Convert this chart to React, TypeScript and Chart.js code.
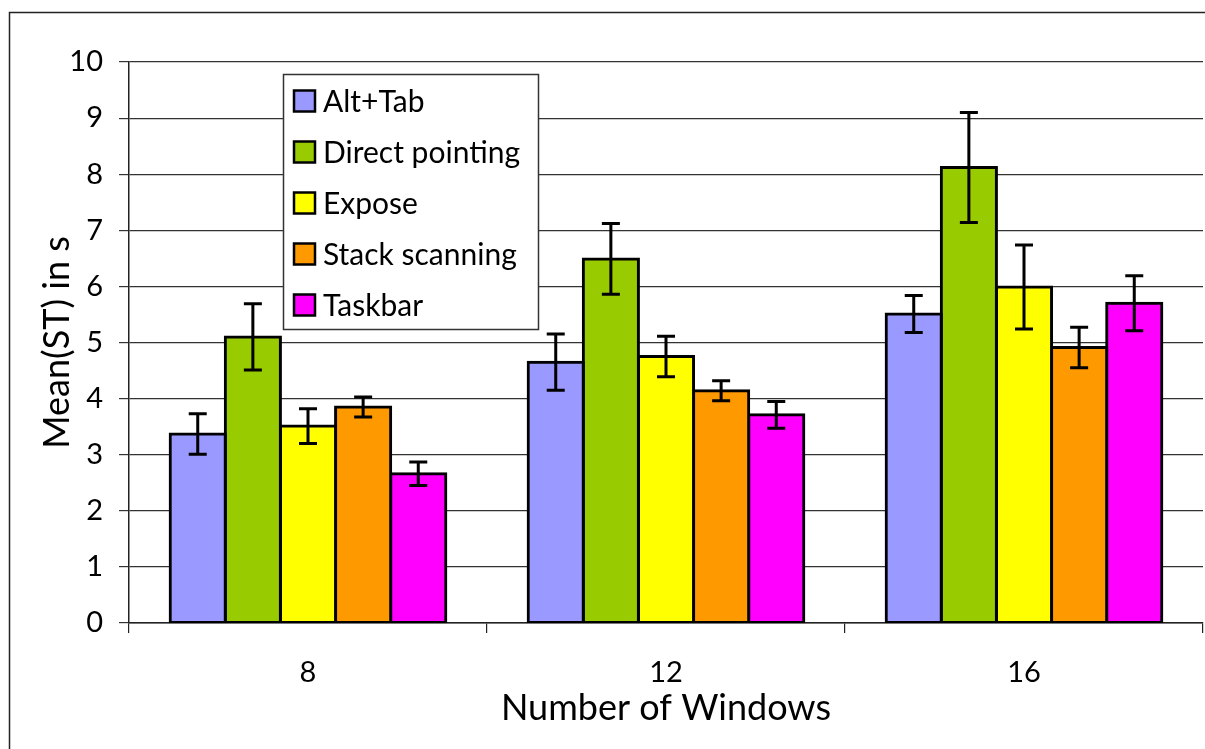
import React, { useEffect, useRef } from "react";
import { Chart, registerables } from "chart.js";

Chart.register(...registerables);

const categories = ["8", "12", "16"];
const seriesNames = ["Alt+Tab", "Direct pointing", "Expose", "Stack scanning", "Taskbar"];
const seriesColors = ["#9999FF", "#99CC00", "#FFFF00", "#FF9900", "#FF00FF"];

const altTab = [3.37, 4.65, 5.51];
const directPointing = [5.1, 6.49, 8.12];
const expose = [3.51, 4.75, 5.99];
const stackScanning = [3.85, 4.14, 4.91];
const taskbar = [2.66, 3.71, 5.7];

const altTabErr = [0.36, 0.5, 0.33];
const directPointingErr = [0.59, 0.63, 0.98];
const exposeErr = [0.31, 0.36, 0.75];
const stackScanningErr = [0.18, 0.18, 0.36];
const taskbarErr = [0.21, 0.24, 0.49];

const yTicks = [0, 1, 2, 3, 4, 5, 6, 7, 8, 9, 10];
const yTitle = "Mean(ST) in s";
const xTitle = "Number of Windows";

const FONT = "Lato, 'Open Sans', sans-serif";

const seriesValues = [altTab, directPointing, expose, stackScanning, taskbar];
const seriesErrors = [altTabErr, directPointingErr, exposeErr, stackScanningErr, taskbarErr];

const framePlugin = {
  id: "frame",
  beforeDraw(chart: any) {
    const ctx = chart.ctx;
    ctx.save();
    ctx.fillStyle = "#ffffff";
    ctx.fillRect(0, 0, chart.width, chart.height);
    ctx.strokeStyle = "#222222";
    ctx.lineWidth = 1.5;
    ctx.beginPath();
    ctx.moveTo(9.5, chart.height + 5);
    ctx.lineTo(9.5, 12.5);
    ctx.lineTo(chart.width + 5, 12.5);
    ctx.stroke();
    ctx.restore();
  },
};

const errorBarPlugin = {
  id: "errorBars",
  afterDatasetsDraw(chart: any) {
    const ctx = chart.ctx;
    const yScale = chart.scales.y;
    ctx.save();
    ctx.strokeStyle = "#000000";
    ctx.lineWidth = 3;
    chart.data.datasets.forEach((ds: any, di: number) => {
      const meta = chart.getDatasetMeta(di);
      meta.data.forEach((bar: any, i: number) => {
        const v = ds.data[i];
        const e = ds.errors[i];
        const x = bar.x;
        const yTop = yScale.getPixelForValue(v + e);
        const yBot = yScale.getPixelForValue(v - e);
        const cap = 9;
        ctx.beginPath();
        ctx.moveTo(x, yTop);
        ctx.lineTo(x, yBot);
        ctx.moveTo(x - cap, yTop);
        ctx.lineTo(x + cap, yTop);
        ctx.moveTo(x - cap, yBot);
        ctx.lineTo(x + cap, yBot);
        ctx.stroke();
      });
    });
    ctx.restore();
  },
};

const legendPlugin = {
  id: "boxLegend",
  afterDraw(chart: any) {
    const ctx = chart.ctx;
    const bx = 283.5, by = 74.5, bw = 255, bh = 255;
    ctx.save();
    ctx.fillStyle = "#ffffff";
    ctx.fillRect(bx, by, bw, bh);
    ctx.strokeStyle = "#333333";
    ctx.lineWidth = 1.5;
    ctx.strokeRect(bx, by, bw, bh);
    ctx.font = `30px ${FONT}`;
    ctx.textBaseline = "middle";
    ctx.textAlign = "left";
    chart.data.datasets.forEach((ds: any, i: number) => {
      const cy = 101 + i * 51;
      ctx.fillStyle = ds.backgroundColor;
      ctx.fillRect(294, cy - 10.5, 21, 21);
      ctx.strokeStyle = "#000000";
      ctx.lineWidth = 2.5;
      ctx.strokeRect(294, cy - 10.5, 21, 21);
      ctx.fillStyle = "#000000";
      ctx.fillText(ds.label, 323, cy + 1);
    });
    ctx.restore();
  },
};

export default function App() {
  const canvasRef = useRef<HTMLCanvasElement | null>(null);

  useEffect(() => {
    if (!canvasRef.current) return;
    const chart = new Chart(canvasRef.current, {
      type: "bar",
      data: {
        labels: categories,
        datasets: seriesNames.map((name, i) => ({
          label: name,
          data: seriesValues[i],
          errors: seriesErrors[i],
          backgroundColor: seriesColors[i],
          borderColor: "#000000",
          borderWidth: 3,
          borderSkipped: false,
          inflateAmount: 1.5,
          categoryPercentage: 0.77,
          barPercentage: 1,
        })) as any,
      },
      options: {
        responsive: false,
        animation: false,
        devicePixelRatio: 1,
        layout: { padding: { top: 62, right: 2, left: 0, bottom: 0 } },
        plugins: {
          legend: { display: false },
          tooltip: { enabled: false },
        },
        scales: {
          x: {
            grid: {
              offset: true,
              drawOnChartArea: false,
              drawTicks: true,
              tickLength: 10,
              color: "#222222",
              lineWidth: 1.2,
            },
            border: { display: true, color: "#222222", width: 1.5 },
            ticks: {
              color: "#000000",
              font: { family: FONT, size: 29 },
              padding: 22,
            },
            title: {
              display: true,
              text: xTitle,
              color: "#000000",
              font: { family: FONT, size: 36 },
              padding: { top: 0, bottom: 19 },
            },
            afterFit(scale: any) {
              scale.height = 126;
            },
          },
          y: {
            min: 0,
            max: 10,
            afterBuildTicks(scale: any) {
              scale.ticks = yTicks.map((v) => ({ value: v }));
            },
            grid: {
              drawOnChartArea: true,
              drawTicks: true,
              tickLength: 10,
              color: "#333333",
              lineWidth: 1.2,
            },
            border: { display: true, color: "#222222", width: 1.5 },
            ticks: {
              color: "#000000",
              font: { family: FONT, size: 29 },
              padding: 16,
            },
            title: {
              display: true,
              text: yTitle,
              color: "#000000",
              font: { family: FONT, size: 36 },
              padding: { top: 36, bottom: 0 },
            },
            afterFit(scale: any) {
              scale.width = 129;
            },
          },
        },
      },
      plugins: [framePlugin, errorBarPlugin, legendPlugin],
    });
    return () => chart.destroy();
  }, []);

  return (
    <div style={{ position: "fixed", left: 0, top: 0, width: 1205, height: 749, background: "#fff" }}>
      <canvas ref={canvasRef} width={1205} height={749} />
    </div>
  );
}
